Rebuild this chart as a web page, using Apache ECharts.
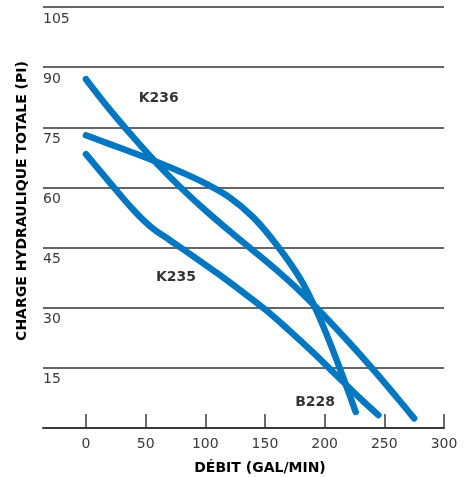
<!DOCTYPE html>
<html><head><meta charset="utf-8">
<script src="https://cdn.jsdelivr.net/npm/echarts@6/dist/echarts.min.js"></script>
<style>html,body{margin:0;padding:0;background:#fff}#c{width:469px;height:477px}</style>
</head><body><div id="c"></div>
<script>
// ---- data ----
const xTicks = [0, 50, 100, 150, 200, 250, 300];
const yTicks = [15, 30, 45, 60, 75, 90, 105];
const k236 = [[0,87],[20,79.4],[40,72.4],[60,65.8],[80,59.8],[100,54.3],[120,49.2],[140,44.3],[160,39.3],[180,33.9],[200,27.9],[220,21.5],[240,14.8],[260,7.8],[275,2.4]];
const b228 = [[0,73],[20,70.8],[40,68.6],[60,66.3],[80,63.8],[100,61.0],[120,57.6],[140,52.6],[160,45.6],[180,37.0],[195,28.0],[210,17.0],[226,4.0]];
const k235 = [[0,68.3],[20,61.2],[40,54.3],[55,50.0],[70,46.9],[90,42.8],[110,38.6],[130,34.2],[150,29.6],[170,24.4],[190,18.9],[210,13.1],[230,7.3],[245,3.2]];
const curveNames = ['K236', 'K235', 'B228'];
const curveLabelPos = [[61, 82.25], [75.4, 37.5], [192, 6.5]];
const xTitle = 'DÉBIT (GAL/MIN)';
const yTitle = 'CHARGE HYDRAULIQUE TOTALE (PI)';

const BLUE = '#0077C0';
const chart = echarts.init(document.getElementById('c'), null, {renderer: 'canvas'});
const lineSeries = (name, data) => ({
  name, type: 'line', data, smooth: 0.4, showSymbol: false, symbol: 'none',
  lineStyle: {color: BLUE, width: 6.5, cap: 'round', join: 'round'}, z: 3, silent: true
});
chart.setOption({
  animation: false,
  backgroundColor: '#fff',
  grid: {left: 43, right: 25, top: 7, bottom: 49, containLabel: false},
  xAxis: {
    type: 'value', min: -36, max: 300,
    axisLine: {show: true, onZero: false, lineStyle: {color: '#3a3a3a', width: 2}},
    axisTick: {show: true, inside: true, length: 14, customValues: xTicks, lineStyle: {color: '#3a3a3a', width: 1.5}},
    axisLabel: {customValues: xTicks, margin: 9, color: '#3a3a3a', fontSize: 14, fontFamily: 'DejaVu Sans'},
    splitLine: {show: false}
  },
  yAxis: {
    type: 'value', min: 0, max: 105, interval: 15,
    axisLine: {show: false}, axisTick: {show: false},
    axisLabel: {
      inside: true, margin: 0, verticalAlign: 'top', padding: [5, 0, 0, 0],
      color: '#3a3a3a', fontSize: 14, fontFamily: 'DejaVu Sans',
      formatter: v => (yTicks.indexOf(v) >= 0 ? String(v) : '')
    },
    splitLine: {show: true, lineStyle: {color: '#333', width: 1.5}}
  },
  series: [
    lineSeries('K236', k236),
    lineSeries('B228', b228),
    lineSeries('K235', k235),
    {
      type: 'scatter', symbolSize: 0, silent: true, z: 4,
      data: curveLabelPos.map((p, i) => ({value: p, name: curveNames[i]})),
      label: {show: true, position: 'inside', formatter: p => p.name,
        color: '#000', fontSize: 14, fontWeight: 'bold', fontFamily: 'DejaVu Sans'}
    }
  ],
  graphic: [
    {type: 'text', x: 22, y: 201, rotation: Math.PI / 2, style: {
      text: yTitle, x: 0, y: 0, align: 'center', verticalAlign: 'middle',
      fill: '#000', font: 'bold 14px "DejaVu Sans"'}},
    {type: 'text', x: 260, y: 468, style: {
      text: xTitle, x: 0, y: 0, align: 'center', verticalAlign: 'middle',
      fill: '#000', font: 'bold 14px "DejaVu Sans"'}}
  ]
});
</script></body></html>
